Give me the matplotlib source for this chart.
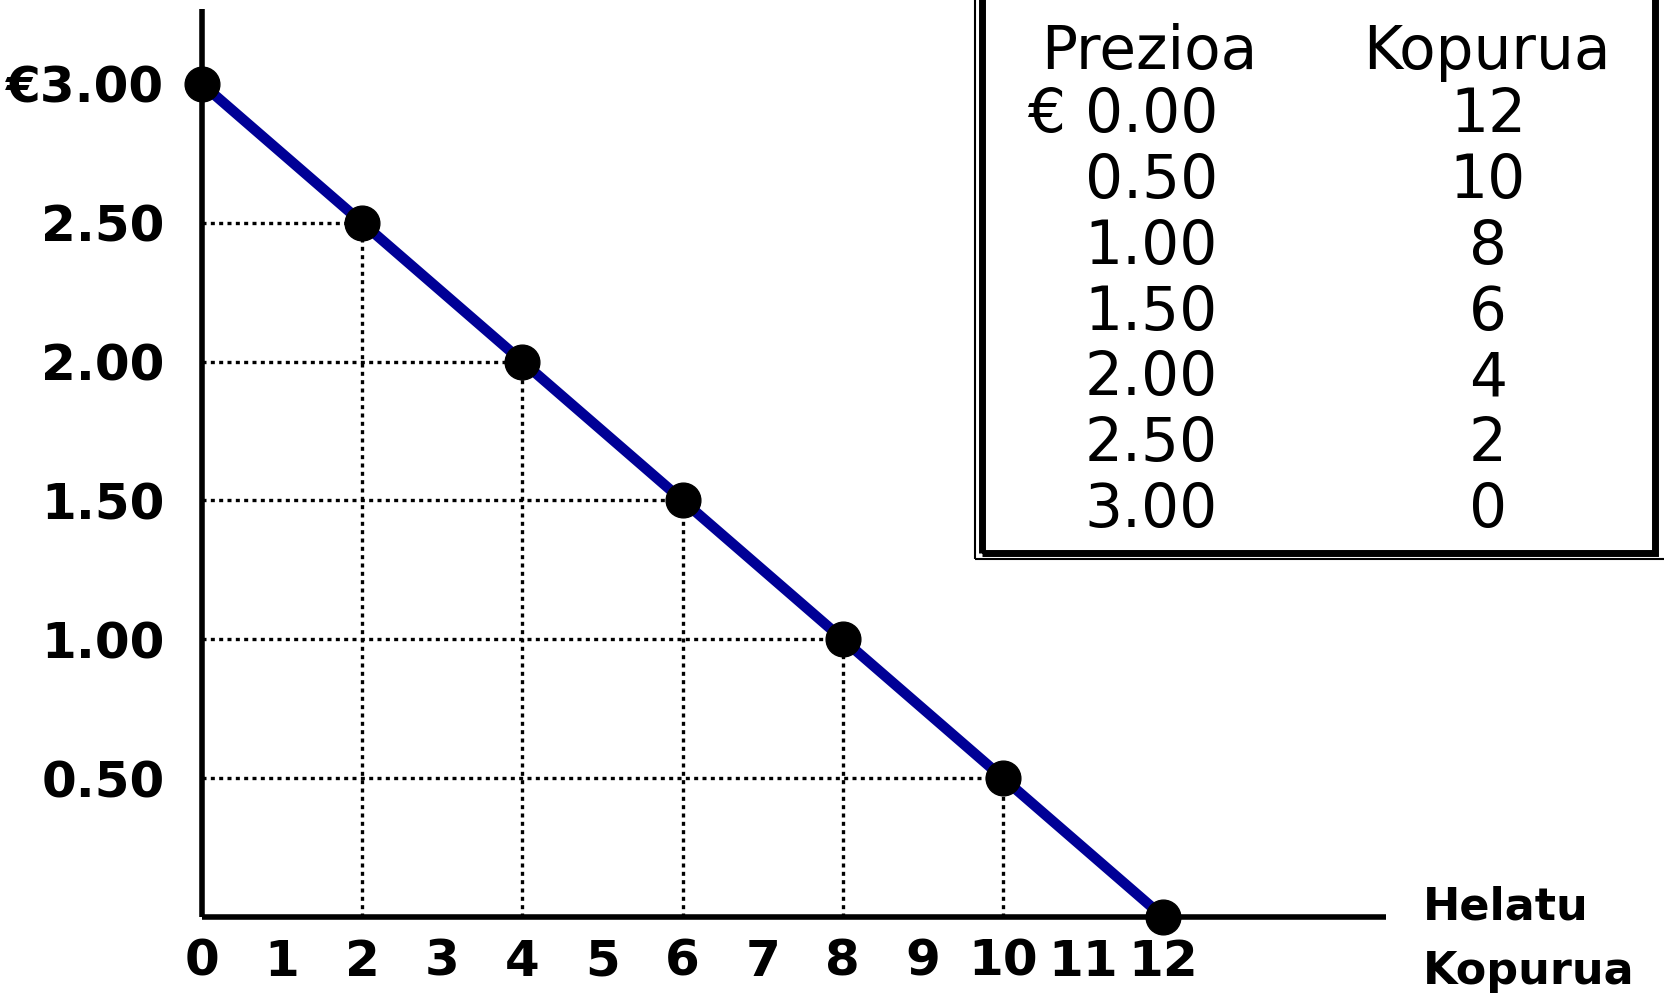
import matplotlib
matplotlib.use("Agg")
import matplotlib.pyplot as plt
from matplotlib.patches import Rectangle

# demand schedule
prices = [0.00, 0.50, 1.00, 1.50, 2.00, 2.50, 3.00]
quantities = [12, 10, 8, 6, 4, 2, 0]

y_ticks = [0.5, 1.0, 1.5, 2.0, 2.5, 3.0]
y_labels = ['0.50', '1.00', '1.50', '2.00', '2.50', '€3.00']
x_ticks = list(range(13))
x_labels = [str(i) for i in x_ticks]

col_titles = ['Prezioa', 'Kopurua']
x_title = ['Helatu', 'Kopurua']

W, H = 1665, 994
fig = plt.figure(figsize=(W / 100, H / 100), dpi=100)

def fx(px):
    return px / W

def fy(py):
    return 1 - py / H

# axes: x=0 at px 202, y=0 at px 917
ax = fig.add_axes([fx(202), fy(917), fx(1386 - 202), (917 - 9) / H])
ax.set_xlim(0, 14.78)
ax.set_ylim(0, 3.27)
for s in ['top', 'right']:
    ax.spines[s].set_visible(False)
for s in ['left', 'bottom']:
    ax.spines[s].set_linewidth(4)
    ax.spines[s].set_capstyle('butt')

dot = (0, (1.2, 1.3))
for q, p in zip(quantities, prices):
    if q == 0 or p == 0:
        continue
    ax.plot([0, q], [p, p], color='black', lw=2.4, linestyle=dot, zorder=2, dash_capstyle='butt')
    ax.plot([q, q], [0, p], color='black', lw=2.4, linestyle=dot, zorder=2, dash_capstyle='butt')

ax.plot(quantities, prices, color='#000096', lw=7.5, zorder=3, solid_capstyle='butt')
ax.plot(quantities, prices, 'o', color='black', markersize=25, zorder=4, clip_on=False)

ax.set_yticks(y_ticks)
ax.set_yticklabels(y_labels, fontsize=36, fontweight='bold')
ax.set_xticks(x_ticks)
ax.set_xticklabels(x_labels, fontsize=36, fontweight='bold')
ax.tick_params(axis='y', length=0, pad=27)
ax.tick_params(axis='x', length=0, pad=15)

fig.text(fx(1423), fy(920), x_title[0], fontsize=32, fontweight='bold', va='baseline', ha='left')
fig.text(fx(1423), fy(984), x_title[1], fontsize=32, fontweight='bold', va='baseline', ha='left')

# table box, double border
fig.patches.append(Rectangle((fx(975), fy(559)), fx(700), 600 / H, transform=fig.transFigure,
                             fill=False, edgecolor='black', lw=1.5))
fig.patches.append(Rectangle((fx(981.5), fy(553)), fx(1655 - 981.5), 560 / H, transform=fig.transFigure,
                             fill=False, edgecolor='black', lw=5))

fig.text(fx(1149), fy(69), col_titles[0], fontsize=43, ha='center', va='baseline')
fig.text(fx(1487), fy(69), col_titles[1], fontsize=43, ha='center', va='baseline')
baselines = [132, 198, 264, 330, 395, 461, 527]
for i, (p, q) in enumerate(zip(prices, quantities)):
    lab = '%.2f' % p
    if i == 0:
        lab = '€ ' + lab
    fig.text(fx(1218), fy(baselines[i]), lab, fontsize=43, ha='right', va='baseline')
    fig.text(fx(1488), fy(baselines[i]), str(q), fontsize=43, ha='center', va='baseline')

fig.savefig('out.png', dpi=100)
